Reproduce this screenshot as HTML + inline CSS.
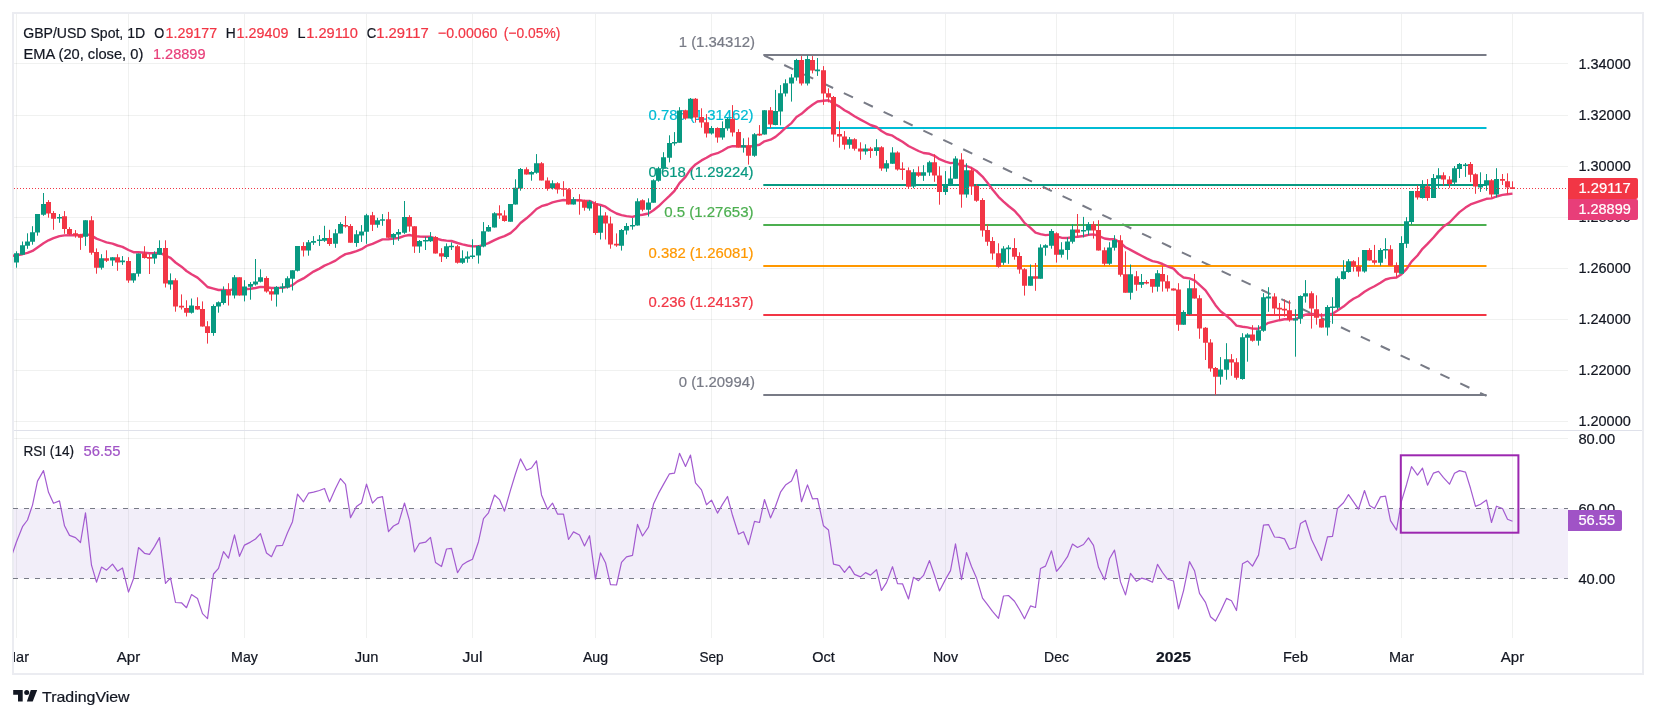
<!DOCTYPE html><html><head><meta charset="utf-8"><title>GBP/USD</title><style>html,body{margin:0;padding:0;background:#fff}svg{display:block;will-change:transform}</style></head><body><svg width="1656" height="718" viewBox="0 0 1656 718" font-family='"Liberation Sans", sans-serif' font-size="14" fill="#131722">
<rect width="1656" height="718" fill="#ffffff"/>
<path d="M16.5 14V638M128.5 14V638M244.5 14V638M366.5 14V638M472.5 14V638M595.5 14V638M711.5 14V638M823.5 14V638M945.5 14V638M1056.5 14V638M1173.5 14V638M1295.5 14V638M1401.5 14V638M1512.5 14V638" stroke="#1e2823" stroke-opacity="0.065" stroke-width="1" fill="none"/>
<path d="M14 63.5H1568M14 115.5H1568M14 166.5H1568M14 217.5H1568M14 268.5H1568M14 319.5H1568M14 370.5H1568M14 421.5H1568M14 438.5H1568" stroke="#1e2823" stroke-opacity="0.065" stroke-width="1" fill="none"/>
<path d="M14 430.5H1642" stroke="#dfe1ea" stroke-width="1"/>
<rect x="13" y="13" width="1630" height="661" fill="none" stroke="#ebecf1" stroke-width="2"/>
<rect x="14" y="508.5" width="1554" height="70.0" fill="#7e57c2" fill-opacity="0.1"/>
<path d="M13 508.5H1568M13 578.5H1568" stroke="#787b86" stroke-width="1.1" stroke-dasharray="5 6" fill="none"/>
<defs><clipPath id="cm"><rect x="13" y="14" width="1554" height="416"/></clipPath><clipPath id="cr"><rect x="13" y="432" width="1554" height="206"/></clipPath></defs>
<g clip-path="url(#cm)">
<path d="M763.3 55.14L1486.5 395.8" stroke="#787b86" stroke-width="2" stroke-dasharray="10.1 11.88" stroke-dashoffset="-1.11" fill="none"/>
<path d="M763.3 55H1486.5" stroke="#787b86" stroke-width="2" fill="none"/>
<path d="M763.3 128H1486.5" stroke="#00bcd4" stroke-width="2" fill="none"/>
<path d="M763.3 185H1486.5" stroke="#089981" stroke-width="2" fill="none"/>
<path d="M763.3 225H1486.5" stroke="#4caf50" stroke-width="2" fill="none"/>
<path d="M763.3 266H1486.5" stroke="#ff9800" stroke-width="2" fill="none"/>
<path d="M763.3 315H1486.5" stroke="#f23645" stroke-width="2" fill="none"/>
<path d="M763.3 395H1486.5" stroke="#787b86" stroke-width="2" fill="none"/>
<text x="678.7" y="47.2" fill="#787b86" font-size="15" textLength="76.3" lengthAdjust="spacingAndGlyphs" stroke="#787b86" stroke-width="0.22">1 (1.34312)</text>
<text x="648.5" y="120.2" fill="#00bcd4" font-size="15" textLength="105" lengthAdjust="spacingAndGlyphs" stroke="#00bcd4" stroke-width="0.22">0.786 (1.31462)</text>
<text x="648.5" y="177.2" fill="#089981" font-size="15" textLength="105" lengthAdjust="spacingAndGlyphs" stroke="#089981" stroke-width="0.22">0.618 (1.29224)</text>
<text x="664.2" y="217.2" fill="#4caf50" font-size="15" textLength="89.3" lengthAdjust="spacingAndGlyphs" stroke="#4caf50" stroke-width="0.22">0.5 (1.27653)</text>
<text x="648.5" y="258.2" fill="#ff9800" font-size="15" textLength="105" lengthAdjust="spacingAndGlyphs" stroke="#ff9800" stroke-width="0.22">0.382 (1.26081)</text>
<text x="648.5" y="307.2" fill="#f23645" font-size="15" textLength="105" lengthAdjust="spacingAndGlyphs" stroke="#f23645" stroke-width="0.22">0.236 (1.24137)</text>
<text x="678.7" y="387.2" fill="#787b86" font-size="15" textLength="76.3" lengthAdjust="spacingAndGlyphs" stroke="#787b86" stroke-width="0.22">0 (1.20994)</text>
<polyline points="11.2,256.1 16.5,255.2 22.5,254.2 27.5,252.9 32.5,250.9 37.5,247.4 43.5,243.2 48.5,240.3 53.5,238.2 59.5,236.1 64.5,235.4 69.5,235.2 75.5,235.2 80.5,235.4 85.5,233.9 91.5,235.6 96.5,238.6 101.5,240.5 106.5,242.3 112.5,243.7 117.5,245.5 122.5,246.9 128.5,250.0 133.5,252.2 138.5,252.3 144.5,252.8 149.5,253.3 154.5,253.3 159.5,252.7 165.5,255.6 170.5,257.9 175.5,262.5 181.5,266.7 186.5,271.0 191.5,274.3 197.5,277.6 202.5,282.2 207.5,287.0 213.5,288.7 218.5,290.0 223.5,289.9 228.5,290.4 234.5,289.1 239.5,289.7 244.5,289.3 250.5,288.8 255.5,288.0 260.5,286.9 266.5,287.3 271.5,288.0 276.5,287.9 282.5,287.7 287.5,286.8 292.5,285.1 297.5,281.4 303.5,278.4 308.5,274.9 313.5,271.6 319.5,268.6 324.5,265.6 329.5,263.5 335.5,260.6 340.5,257.0 345.5,254.1 350.5,253.0 356.5,251.1 361.5,249.2 366.5,245.9 372.5,243.8 377.5,241.6 382.5,239.4 388.5,239.2 393.5,238.6 398.5,238.0 404.5,235.9 409.5,235.0 414.5,236.1 419.5,236.5 425.5,236.8 430.5,236.8 435.5,238.3 441.5,240.0 446.5,240.6 451.5,241.0 457.5,243.0 462.5,244.4 467.5,245.5 472.5,246.4 478.5,246.3 483.5,244.8 488.5,243.1 494.5,240.2 499.5,237.8 504.5,236.1 510.5,233.1 515.5,228.7 520.5,223.0 526.5,218.3 531.5,213.8 536.5,209.0 541.5,206.2 547.5,204.5 552.5,202.4 557.5,201.1 563.5,200.0 568.5,200.4 573.5,200.2 579.5,200.3 584.5,200.9 589.5,200.9 595.5,203.9 600.5,205.0 605.5,206.7 610.5,210.3 616.5,213.5 621.5,215.1 626.5,216.1 632.5,216.9 637.5,215.3 642.5,214.7 648.5,213.5 653.5,210.3 658.5,206.3 663.5,201.5 669.5,195.9 674.5,190.8 679.5,183.1 685.5,176.9 690.5,169.4 695.5,164.4 701.5,160.4 706.5,157.8 711.5,154.9 717.5,153.2 722.5,150.7 727.5,147.7 732.5,146.2 738.5,146.2 743.5,146.1 748.5,147.0 754.5,145.7 759.5,144.7 764.5,141.3 770.5,139.7 775.5,136.9 780.5,132.7 785.5,127.9 791.5,123.1 796.5,117.0 801.5,113.8 807.5,108.5 812.5,104.8 817.5,101.5 823.5,100.7 828.5,100.3 833.5,103.5 839.5,106.6 844.5,110.2 849.5,112.9 854.5,116.3 860.5,119.6 865.5,122.3 870.5,125.0 876.5,127.0 881.5,131.0 886.5,134.0 892.5,135.7 897.5,138.9 902.5,141.8 908.5,146.0 913.5,148.5 918.5,151.0 923.5,153.0 929.5,153.8 934.5,155.8 939.5,159.2 945.5,161.6 950.5,163.1 955.5,162.6 961.5,165.6 966.5,166.0 971.5,167.9 976.5,171.0 982.5,176.6 987.5,182.8 992.5,189.5 998.5,196.8 1003.5,201.6 1008.5,206.0 1014.5,210.8 1019.5,216.3 1024.5,222.9 1030.5,227.9 1035.5,232.7 1040.5,234.1 1045.5,235.1 1051.5,234.6 1056.5,236.5 1061.5,237.7 1067.5,238.0 1072.5,237.1 1077.5,236.7 1083.5,236.0 1088.5,234.8 1093.5,234.4 1098.5,235.9 1104.5,238.5 1109.5,239.3 1114.5,239.3 1120.5,242.6 1125.5,247.3 1130.5,249.9 1136.5,253.1 1141.5,255.8 1146.5,258.4 1152.5,261.1 1157.5,262.2 1162.5,264.0 1167.5,266.3 1173.5,268.6 1178.5,273.9 1183.5,277.5 1189.5,278.4 1194.5,280.3 1199.5,284.8 1205.5,290.3 1210.5,297.7 1215.5,305.2 1220.5,311.3 1226.5,315.8 1231.5,320.2 1236.5,325.6 1242.5,326.7 1247.5,327.4 1252.5,328.6 1258.5,328.7 1263.5,325.7 1268.5,322.8 1274.5,321.4 1279.5,320.2 1284.5,319.2 1289.5,319.2 1295.5,319.1 1300.5,316.9 1305.5,314.6 1311.5,313.9 1316.5,314.3 1321.5,315.5 1327.5,314.6 1332.5,313.8 1337.5,310.4 1343.5,306.6 1348.5,302.3 1353.5,298.8 1358.5,296.2 1364.5,291.7 1369.5,288.7 1374.5,286.2 1380.5,282.7 1385.5,279.5 1390.5,278.1 1396.5,277.5 1401.5,274.2 1406.5,269.1 1411.5,261.6 1417.5,255.5 1422.5,248.8 1427.5,243.9 1433.5,237.5 1438.5,231.6 1443.5,226.6 1449.5,222.5 1454.5,217.2 1459.5,212.1 1465.5,207.6 1470.5,204.4 1475.5,202.7 1480.5,200.9 1486.5,198.8 1491.5,198.4 1496.5,196.5 1502.5,194.9 1507.5,194.2 1512.5,193.6" stroke="#e83e79" stroke-width="2.4" fill="none" stroke-linejoin="round"/>
<path d="M16.5 251.3V267.7M22.5 241.5V254.7M27.5 233.3V248.8M32.5 226.2V244.7M37.5 214.0V235.7M43.5 193.0V215.8M59.5 214.0V222.8M85.5 220.2V245.9M101.5 254.2V269.6M112.5 257.2V265.9M122.5 256.1V264.9M133.5 273.3V282.8M138.5 253.5V276.6M154.5 251.3V263.8M159.5 240.3V254.7M170.5 273.4V289.7M191.5 298.5V313.6M213.5 304.4V335.8M218.5 301.4V312.7M223.5 286.4V304.7M234.5 275.1V298.5M244.5 280.2V301.4M250.5 282.1V299.7M255.5 259.0V285.6M260.5 269.3V282.4M276.5 286.1V306.6M282.5 283.2V292.7M287.5 276.3V288.6M292.5 270.3V290.5M297.5 246.1V271.5M308.5 240.0V255.7M313.5 236.1V244.9M319.5 235.1V245.9M324.5 225.8V241.9M335.5 229.2V247.8M340.5 222.2V233.4M356.5 230.2V246.8M361.5 225.1V241.9M366.5 213.8V243.8M377.5 217.8V227.7M382.5 214.1V225.8M393.5 233.2V244.9M398.5 229.1V240.8M404.5 201.0V233.9M419.5 240.0V252.9M425.5 236.8V250.0M430.5 232.1V241.9M446.5 243.4V258.8M451.5 242.4V250.0M462.5 250.3V263.9M467.5 251.4V262.7M472.5 239.3V258.8M478.5 245.2V263.6M483.5 222.1V247.3M488.5 225.0V231.6M494.5 212.2V227.5M510.5 204.1V221.7M515.5 179.3V204.6M520.5 168.0V190.7M531.5 171.2V180.7M536.5 154.1V173.7M552.5 180.3V189.5M573.5 197.1V204.6M589.5 200.2V210.7M600.5 206.0V239.5M621.5 229.0V250.6M626.5 223.1V234.6M632.5 218.0V229.7M637.5 198.3V225.6M648.5 198.3V216.6M653.5 179.3V202.7M658.5 166.8V181.7M663.5 152.2V168.7M669.5 135.3V162.4M674.5 132.1V145.6M679.5 107.2V142.7M690.5 98.0V118.5M711.5 126.1V134.6M722.5 121.4V139.7M727.5 117.8V130.7M743.5 138.3V152.6M754.5 133.1V156.8M764.5 110.2V134.6M775.5 89.9V125.3M780.5 85.1V125.3M785.5 79.3V96.5M791.5 74.1V101.6M796.5 58.8V80.7M807.5 55.4V85.5M817.5 58.0V75.9M849.5 137.1V148.7M865.5 144.3V154.7M876.5 139.2V155.7M886.5 160.1V171.8M892.5 147.2V163.8M913.5 169.2V188.2M923.5 165.2V180.9M929.5 160.8V175.9M945.5 171.1V194.9M950.5 166.4V186.1M955.5 156.2V178.7M966.5 163.3V197.7M1003.5 246.2V264.9M1008.5 245.2V263.8M1030.5 264.5V285.7M1040.5 244.3V278.7M1045.5 244.3V255.7M1051.5 229.1V248.7M1061.5 242.2V257.6M1067.5 237.4V259.7M1072.5 224.3V243.6M1083.5 216.9V237.4M1088.5 222.1V235.2M1109.5 242.2V264.9M1114.5 235.2V250.6M1130.5 264.5V299.6M1141.5 274.0V287.9M1157.5 270.1V291.6M1183.5 310.3V324.8M1189.5 280.2V315.0M1220.5 357.1V384.6M1226.5 343.2V379.7M1242.5 333.2V379.7M1247.5 333.2V361.7M1258.5 325.2V345.6M1263.5 293.2V331.8M1268.5 287.2V311.8M1295.5 309.3V356.7M1300.5 295.4V323.8M1305.5 280.1V302.6M1327.5 305.2V335.6M1332.5 297.2V323.8M1337.5 276.4V309.6M1343.5 260.2V279.6M1348.5 259.1V272.7M1364.5 250.1V272.7M1380.5 248.2V265.7M1385.5 238.2V258.7M1401.5 236.2V273.8M1406.5 217.2V247.9M1411.5 191.1V224.5M1422.5 180.2V198.6M1433.5 174.0V197.9M1438.5 168.2V188.4M1454.5 166.0V184.0M1459.5 163.0V178.0M1465.5 163.0V176.9M1480.5 172.3V191.9M1486.5 174.0V190.8M1496.5 168.2V197.4" stroke="#089981" stroke-width="1" fill="none"/>
<path d="M48.5 200.1V217.7M53.5 211.1V229.8M64.5 211.1V233.8M69.5 227.2V235.2M75.5 230.1V237.7M80.5 233.8V249.9M91.5 216.2V254.7M96.5 248.4V273.7M106.5 250.3V262.0M117.5 254.2V270.8M128.5 257.2V282.8M144.5 246.2V258.6M149.5 254.2V274.0M165.5 240.3V287.5M175.5 278.3V311.7M181.5 294.4V309.5M186.5 300.3V316.5M197.5 297.3V309.9M202.5 301.4V326.6M207.5 321.2V343.6M228.5 283.2V305.5M239.5 277.3V295.6M266.5 276.3V292.7M271.5 289.0V300.7M303.5 242.2V256.5M329.5 229.8V245.9M345.5 216.0V227.7M350.5 224.1V242.7M372.5 211.9V231.0M388.5 211.9V237.8M409.5 215.2V231.7M414.5 226.3V252.9M435.5 236.1V253.6M441.5 248.2V262.0M457.5 244.9V263.6M499.5 205.3V218.8M504.5 210.3V221.7M526.5 167.3V174.6M541.5 162.1V180.4M547.5 177.4V190.7M557.5 182.2V193.6M563.5 181.2V196.5M568.5 188.3V204.6M579.5 194.2V214.7M584.5 199.7V210.7M595.5 201.2V234.8M605.5 212.2V239.5M610.5 216.6V248.7M616.5 233.4V246.8M642.5 199.3V211.4M685.5 109.7V119.7M695.5 98.0V122.6M701.5 108.3V127.7M706.5 114.1V137.5M717.5 127.3V142.7M732.5 105.1V136.5M738.5 129.2V147.5M748.5 137.5V164.6M759.5 125.1V135.8M770.5 107.1V128.0M801.5 56.1V85.5M812.5 56.1V73.4M823.5 66.1V104.9M828.5 88.3V102.4M833.5 96.0V141.8M839.5 121.2V147.7M844.5 131.1V149.6M854.5 138.2V150.6M860.5 142.3V159.8M870.5 146.9V157.9M881.5 146.2V170.8M897.5 151.3V170.6M902.5 162.3V179.9M908.5 167.4V188.6M918.5 166.4V176.9M934.5 154.3V181.8M939.5 166.4V204.7M961.5 153.2V207.7M971.5 167.4V194.9M976.5 184.2V201.8M982.5 198.2V236.7M987.5 224.3V245.8M992.5 237.1V259.7M998.5 243.3V267.7M1014.5 238.2V259.7M1019.5 252.3V273.7M1024.5 268.1V295.6M1035.5 263.0V290.8M1056.5 232.3V262.6M1077.5 214.0V236.4M1093.5 221.3V238.6M1098.5 220.2V250.6M1104.5 247.4V265.7M1120.5 235.2V276.6M1125.5 251.3V292.7M1136.5 271.1V290.8M1146.5 280.2V284.3M1152.5 279.1V292.7M1162.5 266.0V291.6M1167.5 275.2V291.6M1173.5 288.4V290.5M1178.5 283.2V330.8M1194.5 274.0V298.6M1199.5 295.2V338.8M1205.5 327.1V360.0M1210.5 339.2V371.7M1215.5 367.0V394.8M1231.5 354.1V375.8M1236.5 358.2V379.7M1252.5 325.2V341.7M1274.5 293.2V314.7M1279.5 303.0V319.6M1284.5 299.4V316.6M1289.5 300.4V321.7M1311.5 291.3V328.6M1316.5 295.3V324.7M1321.5 313.3V327.6M1353.5 260.2V271.6M1358.5 257.2V276.7M1369.5 248.2V260.6M1374.5 244.9V264.7M1390.5 245.2V265.7M1396.5 262.4V277.4M1417.5 185.3V199.6M1427.5 179.1V200.8M1443.5 172.3V185.7M1449.5 176.2V187.9M1470.5 162.0V182.1M1475.5 173.3V193.8M1491.5 179.1V197.4M1502.5 174.0V185.0M1507.5 173.3V194.5M1512.5 181.3V188.6" stroke="#f23645" stroke-width="1" fill="none"/>
<path d="M14.0 253.2h5V262.6h-5zM20.0 245.2h5V254.7h-5zM25.0 241.4h5V245.8h-5zM30.0 232.3h5V241.8h-5zM35.0 214.0h5V232.6h-5zM41.0 204.1h5V214.7h-5zM57.0 216.9h5V218.5h-5zM83.0 220.2h5V236.7h-5zM99.0 258.2h5V267.7h-5zM110.0 257.2h5V260.5h-5zM120.0 260.6h5V262.2h-5zM131.0 273.3h5V280.6h-5zM136.0 253.5h5V273.7h-5zM152.0 253.8h5V258.6h-5zM157.0 248.1h5V254.7h-5zM168.0 280.2h5V284.6h-5zM189.0 305.4h5V312.7h-5zM211.0 306.1h5V332.9h-5zM216.0 302.2h5V306.6h-5zM221.0 290.0h5V302.9h-5zM232.0 277.3h5V295.6h-5zM242.0 286.4h5V295.6h-5zM248.0 283.9h5V286.8h-5zM253.0 281.4h5V284.6h-5zM258.0 277.3h5V281.7h-5zM274.0 287.1h5V294.6h-5zM280.0 286.5h5V288.1h-5zM285.0 278.3h5V287.5h-5zM290.0 270.3h5V278.8h-5zM295.0 246.1h5V270.7h-5zM306.0 242.2h5V250.5h-5zM311.0 241.1h5V242.7h-5zM317.0 239.4h5V241.0h-5zM322.0 238.0h5V240.8h-5zM333.0 233.2h5V243.8h-5zM338.0 224.1h5V233.4h-5zM354.0 234.3h5V243.0h-5zM359.0 231.4h5V235.6h-5zM364.0 215.2h5V231.7h-5zM375.0 220.3h5V224.7h-5zM380.0 219.2h5V220.8h-5zM391.0 233.9h5V237.8h-5zM396.0 232.1h5V234.6h-5zM402.0 217.1h5V232.7h-5zM417.0 240.9h5V246.6h-5zM423.0 240.0h5V241.6h-5zM428.0 237.1h5V241.2h-5zM444.0 246.3h5V256.9h-5zM449.0 245.7h5V247.3h-5zM460.0 258.3h5V262.7h-5zM465.0 256.6h5V258.8h-5zM470.0 255.4h5V257.0h-5zM476.0 245.9h5V255.6h-5zM481.0 231.2h5V246.5h-5zM486.0 227.1h5V231.6h-5zM492.0 213.2h5V227.5h-5zM508.0 204.1h5V221.7h-5zM513.0 187.7h5V204.6h-5zM518.0 169.0h5V188.5h-5zM529.0 171.9h5V174.6h-5zM534.0 163.2h5V172.7h-5zM550.0 183.2h5V188.3h-5zM571.0 199.3h5V204.6h-5zM587.0 201.5h5V208.5h-5zM598.0 215.4h5V232.7h-5zM619.0 230.0h5V245.8h-5zM624.0 226.1h5V230.5h-5zM630.0 224.9h5V226.5h-5zM635.0 201.2h5V225.6h-5zM646.0 202.4h5V209.7h-5zM651.0 180.3h5V202.7h-5zM656.0 168.3h5V180.7h-5zM661.0 157.3h5V168.7h-5zM667.0 143.1h5V157.7h-5zM672.0 142.0h5V143.6h-5zM677.0 110.5h5V142.7h-5zM688.0 98.8h5V118.5h-5zM709.0 128.0h5V133.6h-5zM720.0 128.0h5V137.5h-5zM725.0 119.0h5V128.5h-5zM741.0 145.3h5V147.5h-5zM752.0 134.2h5V155.8h-5zM762.0 110.2h5V134.6h-5zM773.0 111.1h5V124.9h-5zM778.0 93.2h5V111.4h-5zM783.0 83.2h5V93.6h-5zM789.0 77.4h5V83.6h-5zM794.0 59.9h5V77.5h-5zM805.0 59.1h5V83.6h-5zM815.0 69.6h5V71.2h-5zM847.0 139.2h5V144.7h-5zM863.0 148.4h5V151.6h-5zM874.0 147.2h5V150.9h-5zM884.0 163.3h5V168.6h-5zM890.0 152.4h5V163.8h-5zM911.0 172.2h5V186.4h-5zM921.0 172.2h5V175.8h-5zM927.0 162.3h5V172.5h-5zM943.0 184.2h5V191.9h-5zM948.0 178.4h5V186.1h-5zM953.0 158.4h5V178.7h-5zM964.0 170.3h5V194.5h-5zM1001.0 248.4h5V262.7h-5zM1006.0 247.6h5V249.2h-5zM1028.0 276.2h5V285.7h-5zM1038.0 247.4h5V278.7h-5zM1043.0 245.2h5V247.7h-5zM1049.0 231.1h5V245.8h-5zM1059.0 249.4h5V254.7h-5zM1065.0 241.4h5V249.9h-5zM1070.0 229.4h5V241.8h-5zM1081.0 230.0h5V231.6h-5zM1086.0 224.3h5V230.5h-5zM1107.0 247.4h5V263.8h-5zM1112.0 240.1h5V247.7h-5zM1128.0 274.3h5V292.7h-5zM1139.0 282.1h5V284.7h-5zM1155.0 273.3h5V286.7h-5zM1181.0 312.1h5V324.8h-5zM1187.0 288.2h5V314.2h-5zM1218.0 369.5h5V376.8h-5zM1224.0 359.2h5V369.8h-5zM1240.0 337.3h5V379.0h-5zM1245.0 334.4h5V337.7h-5zM1256.0 330.3h5V340.7h-5zM1261.0 297.2h5V330.8h-5zM1266.0 296.4h5V298.6h-5zM1293.0 318.4h5V320.6h-5zM1298.0 296.1h5V318.7h-5zM1303.0 293.2h5V296.4h-5zM1325.0 307.1h5V327.6h-5zM1330.0 306.4h5V308.0h-5zM1335.0 278.2h5V307.7h-5zM1341.0 271.3h5V278.9h-5zM1346.0 261.3h5V271.9h-5zM1362.0 250.1h5V271.6h-5zM1378.0 250.1h5V262.8h-5zM1383.0 249.0h5V250.6h-5zM1399.0 243.0h5V273.8h-5zM1404.0 221.3h5V243.8h-5zM1409.0 191.1h5V221.9h-5zM1420.0 185.3h5V197.9h-5zM1431.0 178.1h5V197.9h-5zM1436.0 175.2h5V178.7h-5zM1452.0 168.2h5V182.4h-5zM1457.0 164.1h5V168.9h-5zM1463.0 164.5h5V166.1h-5zM1478.0 184.3h5V187.5h-5zM1484.0 180.2h5V185.4h-5zM1494.0 179.1h5V194.5h-5z" fill="#089981"/>
<path d="M46.0 202.0h5V213.6h-5zM51.0 213.0h5V218.7h-5zM62.0 216.2h5V228.9h-5zM67.0 228.9h5V234.1h-5zM73.0 233.3h5V235.2h-5zM78.0 234.5h5V237.7h-5zM89.0 220.2h5V252.8h-5zM94.0 252.1h5V267.7h-5zM104.0 258.2h5V260.8h-5zM115.0 257.2h5V262.6h-5zM126.0 261.1h5V280.6h-5zM142.0 253.5h5V257.9h-5zM147.0 257.1h5V258.7h-5zM163.0 248.0h5V283.6h-5zM173.0 280.2h5V306.6h-5zM179.0 305.8h5V307.4h-5zM184.0 308.0h5V312.7h-5zM195.0 306.1h5V309.5h-5zM200.0 309.0h5V326.6h-5zM205.0 326.3h5V332.9h-5zM226.0 290.0h5V295.6h-5zM237.0 277.3h5V295.6h-5zM264.0 278.0h5V291.6h-5zM269.0 291.2h5V294.6h-5zM301.0 246.1h5V250.5h-5zM327.0 238.0h5V244.1h-5zM343.0 225.0h5V226.6h-5zM348.0 226.1h5V242.7h-5zM370.0 215.2h5V224.7h-5zM386.0 219.3h5V237.8h-5zM407.0 217.1h5V226.6h-5zM412.0 226.3h5V246.6h-5zM433.0 237.1h5V253.6h-5zM439.0 253.2h5V256.6h-5zM455.0 246.3h5V262.7h-5zM497.0 213.2h5V215.4h-5zM502.0 215.4h5V220.9h-5zM524.0 169.3h5V174.6h-5zM539.0 163.2h5V180.4h-5zM545.0 180.4h5V188.8h-5zM555.0 183.2h5V189.5h-5zM561.0 188.2h5V189.8h-5zM566.0 189.2h5V204.6h-5zM577.0 199.7h5V201.3h-5zM582.0 200.5h5V207.8h-5zM593.0 203.4h5V232.9h-5zM603.0 215.4h5V223.6h-5zM608.0 223.6h5V244.6h-5zM614.0 243.8h5V245.4h-5zM640.0 200.2h5V209.7h-5zM683.0 110.2h5V118.5h-5zM693.0 98.8h5V117.5h-5zM699.0 117.1h5V122.6h-5zM704.0 122.2h5V133.6h-5zM715.0 128.0h5V137.5h-5zM730.0 119.0h5V132.4h-5zM736.0 132.1h5V147.5h-5zM746.0 145.3h5V155.8h-5zM757.0 133.8h5V135.4h-5zM768.0 110.2h5V124.4h-5zM799.0 59.9h5V83.6h-5zM810.0 59.9h5V70.5h-5zM821.0 70.2h5V93.6h-5zM826.0 93.2h5V97.5h-5zM831.0 97.1h5V134.5h-5zM837.0 134.1h5V136.4h-5zM842.0 136.4h5V144.7h-5zM852.0 139.2h5V148.7h-5zM858.0 148.4h5V151.6h-5zM868.0 148.4h5V150.9h-5zM879.0 147.2h5V168.6h-5zM895.0 152.4h5V169.6h-5zM900.0 168.5h5V170.1h-5zM906.0 170.3h5V186.7h-5zM916.0 172.2h5V175.8h-5zM932.0 162.3h5V175.5h-5zM937.0 175.5h5V191.9h-5zM959.0 159.4h5V194.5h-5zM969.0 170.3h5V186.4h-5zM974.0 186.1h5V200.8h-5zM980.0 200.1h5V230.5h-5zM985.0 230.1h5V241.8h-5zM990.0 241.1h5V253.5h-5zM996.0 253.2h5V266.7h-5zM1012.0 248.1h5V256.7h-5zM1017.0 256.1h5V269.6h-5zM1022.0 269.3h5V285.7h-5zM1033.0 276.2h5V278.7h-5zM1054.0 233.3h5V254.7h-5zM1075.0 229.4h5V232.7h-5zM1091.0 224.3h5V230.5h-5zM1096.0 230.1h5V250.6h-5zM1102.0 250.3h5V263.8h-5zM1118.0 240.3h5V274.7h-5zM1123.0 274.3h5V292.7h-5zM1134.0 276.2h5V284.7h-5zM1144.0 282.0h5V283.6h-5zM1150.0 279.1h5V286.7h-5zM1160.0 274.0h5V281.6h-5zM1165.0 281.3h5V288.6h-5zM1171.0 288.4h5V290.5h-5zM1176.0 289.4h5V324.8h-5zM1192.0 288.2h5V298.6h-5zM1197.0 298.2h5V328.5h-5zM1203.0 327.8h5V342.7h-5zM1208.0 342.4h5V368.5h-5zM1213.0 368.0h5V376.8h-5zM1229.0 359.2h5V362.6h-5zM1234.0 362.2h5V377.8h-5zM1250.0 334.4h5V340.7h-5zM1272.0 296.4h5V308.6h-5zM1277.0 307.8h5V309.4h-5zM1282.0 308.8h5V310.4h-5zM1287.0 310.3h5V319.8h-5zM1309.0 293.2h5V308.6h-5zM1314.0 309.3h5V317.7h-5zM1319.0 319.1h5V327.6h-5zM1351.0 261.3h5V266.5h-5zM1356.0 266.2h5V271.6h-5zM1367.0 250.1h5V260.6h-5zM1372.0 260.3h5V262.8h-5zM1388.0 249.2h5V265.7h-5zM1394.0 265.3h5V272.7h-5zM1415.0 191.1h5V197.4h-5zM1425.0 186.2h5V197.9h-5zM1441.0 175.2h5V179.6h-5zM1447.0 179.4h5V184.0h-5zM1468.0 164.1h5V174.7h-5zM1473.0 174.3h5V186.5h-5zM1489.0 180.2h5V194.5h-5zM1500.0 179.1h5V180.7h-5zM1505.0 181.3h5V187.5h-5zM1510.0 187.3h5V188.9h-5z" fill="#f23645"/>
</g>
<path d="M14 188.5H1568" stroke="#f23645" stroke-width="1" stroke-dasharray="1 2" fill="none"/>
<g clip-path="url(#cr)"><polyline points="11.2,557 16.5,541.8 22.5,526.7 27.5,520.0 32.5,505.1 37.5,481.1 43.5,470.6 48.5,492.3 53.5,503.3 59.5,500.9 64.5,525.8 69.5,535.4 75.5,537.6 80.5,542.5 85.5,512.9 91.5,565.2 96.5,582.2 101.5,567.1 106.5,570.2 112.5,564.1 117.5,571.2 122.5,568.0 128.5,592.1 133.5,578.7 138.5,547.5 144.5,553.3 149.5,554.3 154.5,546.6 159.5,537.6 165.5,583.3 170.5,577.9 175.5,602.5 181.5,602.8 186.5,607.7 191.5,594.6 197.5,598.5 202.5,613.6 207.5,618.6 213.5,574.0 218.5,568.3 223.5,551.6 228.5,558.2 234.5,534.8 239.5,556.3 244.5,545.1 250.5,542.1 255.5,539.0 260.5,533.7 266.5,553.0 271.5,556.7 276.5,545.8 282.5,545.4 287.5,532.8 292.5,521.7 297.5,494.2 303.5,501.8 308.5,493.2 313.5,492.1 319.5,490.5 324.5,488.5 329.5,501.9 335.5,488.5 340.5,478.6 345.5,484.3 350.5,517.6 356.5,506.6 361.5,502.9 366.5,484.2 372.5,503.1 377.5,497.9 382.5,496.7 388.5,531.6 393.5,526.0 398.5,523.4 404.5,503.0 409.5,520.7 414.5,551.8 419.5,543.3 425.5,542.2 430.5,537.4 435.5,562.5 441.5,566.5 446.5,549.0 451.5,548.3 457.5,572.7 462.5,564.8 467.5,561.6 472.5,559.3 478.5,541.7 483.5,518.6 488.5,512.8 494.5,495.0 499.5,499.6 504.5,511.2 510.5,490.1 515.5,473.8 520.5,458.9 526.5,470.2 531.5,468.0 536.5,460.8 541.5,494.9 547.5,509.3 552.5,503.1 557.5,514.1 563.5,514.1 568.5,539.5 573.5,531.9 579.5,535.0 584.5,546.0 589.5,535.7 595.5,579.2 600.5,552.9 605.5,562.7 610.5,584.6 616.5,585.0 621.5,562.4 626.5,556.9 632.5,555.4 637.5,524.4 642.5,536.0 648.5,527.2 653.5,504.1 658.5,493.4 663.5,484.4 669.5,473.8 674.5,473.2 679.5,453.3 685.5,466.4 690.5,455.1 695.5,482.8 701.5,489.9 706.5,504.8 711.5,500.1 717.5,513.1 722.5,504.4 727.5,496.5 732.5,515.3 738.5,534.2 743.5,531.8 748.5,544.7 754.5,521.4 759.5,522.5 764.5,499.5 770.5,517.9 775.5,506.3 780.5,492.2 785.5,485.1 791.5,481.0 796.5,469.6 801.5,501.7 807.5,484.9 812.5,498.8 817.5,498.5 823.5,525.8 828.5,530.0 833.5,564.1 839.5,565.6 844.5,572.4 849.5,566.1 854.5,574.4 860.5,576.9 865.5,572.6 870.5,575.1 876.5,569.7 881.5,590.5 886.5,582.6 892.5,566.7 897.5,583.7 902.5,583.8 908.5,599.0 913.5,577.3 918.5,580.7 923.5,575.4 929.5,560.6 934.5,575.2 939.5,591.0 945.5,579.4 950.5,570.6 955.5,543.8 961.5,579.6 966.5,552.5 971.5,566.5 976.5,577.9 982.5,598.1 987.5,604.7 992.5,611.3 998.5,618.4 1003.5,596.0 1008.5,595.5 1014.5,601.3 1019.5,609.5 1024.5,618.8 1030.5,605.9 1035.5,607.5 1040.5,568.5 1045.5,566.1 1051.5,550.8 1056.5,571.3 1061.5,565.5 1067.5,556.7 1072.5,544.0 1077.5,547.5 1083.5,544.5 1088.5,537.8 1093.5,545.4 1098.5,567.3 1104.5,579.8 1109.5,558.8 1114.5,550.1 1120.5,581.9 1125.5,594.9 1130.5,573.4 1136.5,581.3 1141.5,578.2 1146.5,579.4 1152.5,582.2 1157.5,564.4 1162.5,572.5 1167.5,579.2 1173.5,581.0 1178.5,608.9 1183.5,590.8 1189.5,561.6 1194.5,570.7 1199.5,593.3 1205.5,602.4 1210.5,616.8 1215.5,621.0 1220.5,611.5 1226.5,598.4 1231.5,600.7 1236.5,610.5 1242.5,563.8 1247.5,560.9 1252.5,566.1 1258.5,555.1 1263.5,525.2 1268.5,524.6 1274.5,537.0 1279.5,537.4 1284.5,538.8 1289.5,549.3 1295.5,547.5 1300.5,523.4 1305.5,520.5 1311.5,539.5 1316.5,549.8 1321.5,560.5 1327.5,536.8 1332.5,536.3 1337.5,508.5 1343.5,502.7 1348.5,494.6 1353.5,501.8 1358.5,509.2 1364.5,490.5 1369.5,505.4 1374.5,508.5 1380.5,496.9 1385.5,496.1 1390.5,520.6 1396.5,530.1 1401.5,501.1 1406.5,484.7 1411.5,466.6 1417.5,475.1 1422.5,468.1 1427.5,485.2 1433.5,473.1 1438.5,471.4 1443.5,477.7 1449.5,484.2 1454.5,473.3 1459.5,470.6 1465.5,472.1 1470.5,488.3 1475.5,506.4 1480.5,504.2 1486.5,500.1 1491.5,522.5 1496.5,506.2 1502.5,508.5 1507.5,519.3 1512.5,521.2" stroke="#a35bd0" stroke-width="1.2" fill="none" stroke-linejoin="round"/></g>
<rect x="1400.8" y="455.3" width="117.6" height="77.4" fill="none" stroke="#9c27b0" stroke-width="2"/>
<text x="1578.4" y="68.5" font-size="15" textLength="52.4" lengthAdjust="spacingAndGlyphs" stroke="#131722" stroke-width="0.22">1.34000</text>
<text x="1578.4" y="119.6" font-size="15" textLength="52.4" lengthAdjust="spacingAndGlyphs" stroke="#131722" stroke-width="0.22">1.32000</text>
<text x="1578.4" y="170.7" font-size="15" textLength="52.4" lengthAdjust="spacingAndGlyphs" stroke="#131722" stroke-width="0.22">1.30000</text>
<text x="1578.4" y="221.8" font-size="15" textLength="52.4" lengthAdjust="spacingAndGlyphs" stroke="#131722" stroke-width="0.22">1.28000</text>
<text x="1578.4" y="272.9" font-size="15" textLength="52.4" lengthAdjust="spacingAndGlyphs" stroke="#131722" stroke-width="0.22">1.26000</text>
<text x="1578.4" y="324.0" font-size="15" textLength="52.4" lengthAdjust="spacingAndGlyphs" stroke="#131722" stroke-width="0.22">1.24000</text>
<text x="1578.4" y="375.1" font-size="15" textLength="52.4" lengthAdjust="spacingAndGlyphs" stroke="#131722" stroke-width="0.22">1.22000</text>
<text x="1578.4" y="426.2" font-size="15" textLength="52.4" lengthAdjust="spacingAndGlyphs" stroke="#131722" stroke-width="0.22">1.20000</text>
<text x="1578.4" y="443.7" font-size="15" textLength="36.8" lengthAdjust="spacingAndGlyphs" stroke="#131722" stroke-width="0.22">80.00</text>
<text x="1578.4" y="513.7" font-size="15" textLength="36.8" lengthAdjust="spacingAndGlyphs" stroke="#131722" stroke-width="0.22">60.00</text>
<text x="1578.4" y="583.7" font-size="15" textLength="36.8" lengthAdjust="spacingAndGlyphs" stroke="#131722" stroke-width="0.22">40.00</text>
<path d="M1568 178H1636a2 2 0 0 1 2 2V197a2 2 0 0 1 -2 2H1568z" fill="#f23645"/>
<text x="1578.4" y="193.4" fill="#fff" font-size="15" textLength="52.4" lengthAdjust="spacingAndGlyphs" stroke="#fff" stroke-width="0.22">1.29117</text>
<path d="M1568 199H1636a2 2 0 0 1 2 2V218a2 2 0 0 1 -2 2H1568z" fill="#e83e79"/>
<text x="1578.4" y="214.4" fill="#fff" font-size="15" textLength="52.4" lengthAdjust="spacingAndGlyphs" stroke="#fff" stroke-width="0.22">1.28899</text>
<path d="M1568 510H1620a2 2 0 0 1 2 2V529a2 2 0 0 1 -2 2H1568z" fill="#a053c6"/>
<text x="1578.4" y="525.4" fill="#fff" font-size="15" textLength="36.8" lengthAdjust="spacingAndGlyphs" stroke="#fff" stroke-width="0.22">56.55</text>
<text x="4.0" y="661.8" font-size="15" textLength="25" lengthAdjust="spacingAndGlyphs" stroke="#131722" stroke-width="0.22">Mar</text>
<text x="116.8" y="661.8" font-size="15" textLength="23.4" lengthAdjust="spacingAndGlyphs" stroke="#131722" stroke-width="0.22">Apr</text>
<text x="231.1" y="661.8" font-size="15" textLength="26.8" lengthAdjust="spacingAndGlyphs" stroke="#131722" stroke-width="0.22">May</text>
<text x="354.7" y="661.8" font-size="15" textLength="23.6" lengthAdjust="spacingAndGlyphs" stroke="#131722" stroke-width="0.22">Jun</text>
<text x="462.5" y="661.8" font-size="15" textLength="20" lengthAdjust="spacingAndGlyphs" stroke="#131722" stroke-width="0.22">Jul</text>
<text x="582.9" y="661.8" font-size="15" textLength="25.2" lengthAdjust="spacingAndGlyphs" stroke="#131722" stroke-width="0.22">Aug</text>
<text x="699.4" y="661.8" font-size="15" textLength="24.2" lengthAdjust="spacingAndGlyphs" stroke="#131722" stroke-width="0.22">Sep</text>
<text x="812.2" y="661.8" font-size="15" textLength="22.5" lengthAdjust="spacingAndGlyphs" stroke="#131722" stroke-width="0.22">Oct</text>
<text x="932.9" y="661.8" font-size="15" textLength="25.2" lengthAdjust="spacingAndGlyphs" stroke="#131722" stroke-width="0.22">Nov</text>
<text x="1044.1" y="661.8" font-size="15" textLength="24.8" lengthAdjust="spacingAndGlyphs" stroke="#131722" stroke-width="0.22">Dec</text>
<text x="1156.0" y="661.8" font-size="15" textLength="35" lengthAdjust="spacingAndGlyphs" font-weight="bold" stroke="#131722" stroke-width="0.22">2025</text>
<text x="1283.0" y="661.8" font-size="15" textLength="25" lengthAdjust="spacingAndGlyphs" stroke="#131722" stroke-width="0.22">Feb</text>
<text x="1389.0" y="661.8" font-size="15" textLength="25" lengthAdjust="spacingAndGlyphs" stroke="#131722" stroke-width="0.22">Mar</text>
<text x="1500.8" y="661.8" font-size="15" textLength="23.4" lengthAdjust="spacingAndGlyphs" stroke="#131722" stroke-width="0.22">Apr</text>
<rect x="0" y="640" width="12" height="32" fill="#fff"/>
<rect x="12" y="640" width="2" height="33" fill="#ebecf1"/>
<text x="23.2" y="37.8" font-size="15" textLength="122" lengthAdjust="spacingAndGlyphs" stroke="#131722" stroke-width="0.22">GBP/USD Spot, 1D</text>
<text x="154.2" y="37.8" font-size="15" textLength="10" lengthAdjust="spacingAndGlyphs" stroke="#131722" stroke-width="0.22">O</text>
<text x="165.6" y="37.8" font-size="15" textLength="51.5" lengthAdjust="spacingAndGlyphs" fill="#f23645" stroke="#f23645" stroke-width="0.22">1.29177</text>
<text x="225.8" y="37.8" font-size="15" textLength="10" lengthAdjust="spacingAndGlyphs" stroke="#131722" stroke-width="0.22">H</text>
<text x="236.6" y="37.8" font-size="15" textLength="51.8" lengthAdjust="spacingAndGlyphs" fill="#f23645" stroke="#f23645" stroke-width="0.22">1.29409</text>
<text x="297.6" y="37.8" font-size="15" textLength="8" lengthAdjust="spacingAndGlyphs" stroke="#131722" stroke-width="0.22">L</text>
<text x="306.2" y="37.8" font-size="15" textLength="51.8" lengthAdjust="spacingAndGlyphs" fill="#f23645" stroke="#f23645" stroke-width="0.22">1.29110</text>
<text x="366.8" y="37.8" font-size="15" textLength="9.5" lengthAdjust="spacingAndGlyphs" stroke="#131722" stroke-width="0.22">C</text>
<text x="376.2" y="37.8" font-size="15" textLength="52.5" lengthAdjust="spacingAndGlyphs" fill="#f23645" stroke="#f23645" stroke-width="0.22">1.29117</text>
<text x="438" y="37.8" font-size="15" textLength="59.5" lengthAdjust="spacingAndGlyphs" fill="#f23645" stroke="#f23645" stroke-width="0.22">−0.00060</text>
<text x="503.8" y="37.8" font-size="15" textLength="56.5" lengthAdjust="spacingAndGlyphs" fill="#f23645" stroke="#f23645" stroke-width="0.22">(−0.05%)</text>
<text x="23.5" y="59.0" font-size="15" textLength="119.8" lengthAdjust="spacingAndGlyphs" stroke="#131722" stroke-width="0.22">EMA (20, close, 0)</text>
<text x="153" y="59.0" font-size="15" textLength="52.5" lengthAdjust="spacingAndGlyphs" fill="#e83e79" stroke="#e83e79" stroke-width="0.22">1.28899</text>
<text x="23.5" y="455.9" font-size="15" textLength="50.5" lengthAdjust="spacingAndGlyphs" stroke="#131722" stroke-width="0.22">RSI (14)</text>
<text x="83.5" y="455.9" font-size="15" textLength="37" lengthAdjust="spacingAndGlyphs" fill="#a053c6" stroke="#a053c6" stroke-width="0.22">56.55</text>
<path d="M13.2 690H22.7V701.5H18V694.8H13.2z" fill="#131722"/>
<circle cx="26.7" cy="692.6" r="2.5" fill="#131722"/>
<path d="M30.8 690H37.2L32.7 701.5H26.9z" fill="#131722"/>
<text x="42" y="701.5" font-size="15" textLength="87.6" lengthAdjust="spacingAndGlyphs" fill="#131722" stroke="#131722" stroke-width="0.22">TradingView</text>
</svg></body></html>
